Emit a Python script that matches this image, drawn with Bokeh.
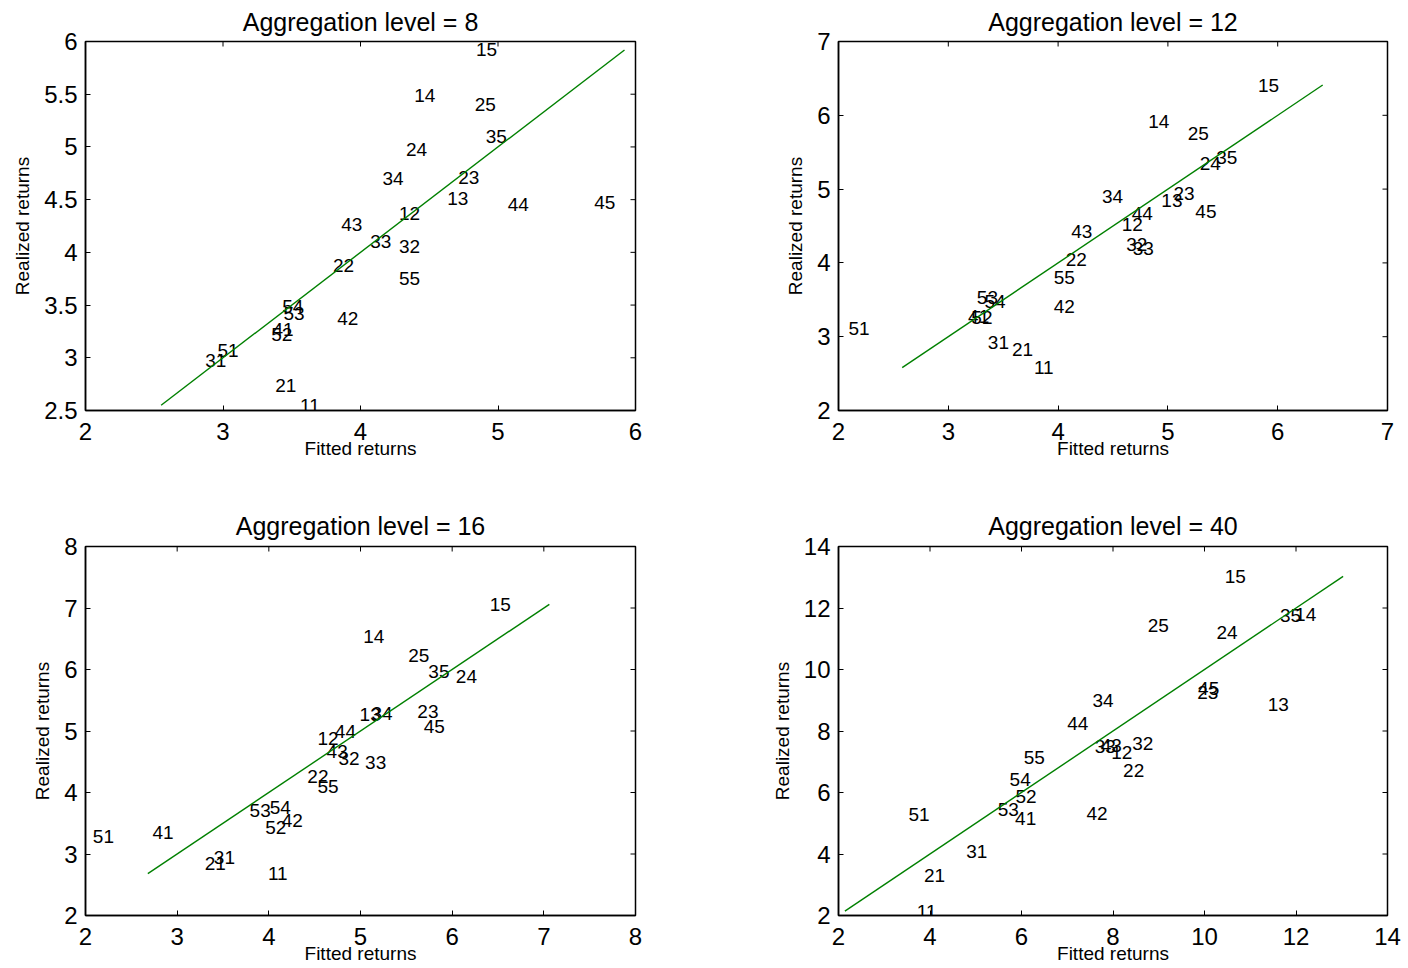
import math
from bokeh.plotting import figure
from bokeh.models import Range1d, FixedTicker, ColumnDataSource, CustomJSTickFormatter
from bokeh.layouts import column, row
from bokeh.embed import file_html
from bokeh.resources import INLINE
from bokeh.core.properties import value

FONT = "Liberation Sans"

codes = ["11", "12", "13", "14", "15", "21", "22", "23", "24", "25",
         "31", "32", "33", "34", "35", "41", "42", "43", "44", "45",
         "51", "52", "53", "54", "55"]

# Aggregation level = 8
fitted_8 = [3.56, 4.28, 4.63, 4.39, 4.84, 3.38, 3.80, 4.71, 4.33, 4.83,
            2.87, 4.28, 4.07, 4.16, 4.91, 3.36, 3.83, 3.86, 5.07, 5.70,
            2.96, 3.35, 3.44, 3.43, 4.28]
realized_8 = [2.55, 4.37, 4.51, 5.49, 5.92, 2.74, 3.88, 4.71, 4.98, 5.40,
              2.97, 4.06, 4.10, 4.70, 5.10, 3.27, 3.37, 4.26, 4.45, 4.47,
              3.07, 3.22, 3.42, 3.49, 3.75]
xticks_8 = [2, 3, 4, 5, 6]
yticks_8 = [2.5, 3, 3.5, 4, 4.5, 5, 5.5, 6]

# Aggregation level = 12
fitted_12 = [3.78, 4.58, 4.94, 4.82, 5.82, 3.58, 4.07, 5.05, 5.29, 5.18,
             3.36, 4.62, 4.68, 4.40, 5.44, 3.18, 3.96, 4.12, 4.67, 5.25,
             2.09, 3.21, 3.26, 3.33, 3.96]
realized_12 = [2.58, 4.52, 4.84, 5.92, 6.41, 2.82, 4.04, 4.94, 5.35, 5.76,
               2.92, 4.25, 4.20, 4.90, 5.43, 3.28, 3.41, 4.42, 4.67, 4.69,
               3.11, 3.26, 3.53, 3.48, 3.80]
xticks_12 = [2, 3, 4, 5, 6, 7]
yticks_12 = [2, 3, 4, 5, 6, 7]

# Aggregation level = 16
fitted_16 = [3.99, 4.53, 4.99, 5.03, 6.41, 3.30, 4.42, 5.62, 6.04, 5.52,
             3.40, 4.76, 5.05, 5.12, 5.74, 2.73, 4.14, 4.63, 4.72, 5.69,
             2.08, 3.96, 3.79, 4.01, 4.53]
realized_16 = [2.68, 4.88, 5.27, 6.53, 7.06, 2.85, 4.26, 5.32, 5.89, 6.23,
               2.95, 4.55, 4.48, 5.28, 5.96, 3.35, 3.55, 4.66, 5.00, 5.07,
               3.29, 3.43, 3.70, 3.75, 4.09]
xticks_16 = [2, 3, 4, 5, 6, 7, 8]
yticks_16 = [2, 3, 4, 5, 6, 7, 8]

# Aggregation level = 40
fitted_40 = [3.71, 7.96, 11.38, 11.98, 10.44, 3.87, 8.22, 9.84, 10.26, 8.76,
             4.79, 8.42, 7.60, 7.55, 11.65, 5.86, 7.42, 7.73, 7.00, 9.86,
             3.53, 5.87, 5.48, 5.74, 6.05]
realized_40 = [2.14, 7.30, 8.86, 11.79, 13.03, 3.29, 6.70, 9.25, 11.19, 11.43,
               4.07, 7.59, 7.48, 9.00, 11.76, 5.17, 5.33, 7.53, 8.24, 9.38,
               5.29, 5.88, 5.45, 6.43, 7.15]
xticks_40 = [2, 4, 6, 8, 10, 12, 14]
yticks_40 = [2, 4, 6, 8, 10, 12, 14]

titles = ["Aggregation level = 8", "Aggregation level = 12",
          "Aggregation level = 16", "Aggregation level = 40"]


def make_panel(title, fitted, realized, xticks, yticks, width, height,
               bl, br, bt, bb, title_standoff):
    xlo, xhi = xticks[0], xticks[-1]
    ylo, yhi = yticks[0], yticks[-1]
    p = figure(width=width, height=height, output_backend="svg",
               toolbar_location=None,
               x_range=Range1d(xlo, xhi), y_range=Range1d(ylo, yhi),
               min_border_left=bl, min_border_right=br,
               min_border_top=bt, min_border_bottom=bb)
    p.background_fill_color = "white"
    p.border_fill_color = "white"
    p.outline_line_color = "black"
    p.outline_line_width = 1.5
    p.grid.visible = False

    p.title.text = title
    p.title.align = "center"
    p.title.text_font = FONT
    p.title.text_font_size = "25px"
    p.title.text_font_style = "normal"
    p.title.text_color = "black"
    p.title.standoff = title_standoff

    fmt = CustomJSTickFormatter(code="return tick.toString();")
    for ax, ticks, lab in ((p.xaxis[0], xticks, "Fitted returns"),
                           (p.yaxis[0], yticks, "Realized returns")):
        ax.ticker = FixedTicker(ticks=ticks)
        ax.formatter = fmt
        ax.axis_label = lab
        ax.axis_label_text_font = FONT
        ax.axis_label_text_font_size = "19px"
        ax.axis_label_text_font_style = "normal"
        ax.axis_label_text_color = "black"
        ax.major_label_text_font = FONT
        ax.major_label_text_font_size = "24px"
        ax.major_label_text_color = "black"
        ax.major_tick_in = 5
        ax.major_tick_out = 0
        ax.minor_tick_line_color = None
        ax.axis_line_color = "black"
        ax.axis_line_width = 1.5
        ax.major_tick_line_color = "black"
    p.xaxis[0].major_label_standoff = 12
    p.xaxis[0].axis_label_standoff = -5
    p.yaxis[0].major_label_standoff = 8
    p.yaxis[0].axis_label_standoff = 8

    # inner ticks on the top and right sides of the box
    p.ray(x=xticks, y=[yhi] * len(xticks), length=5, length_units="screen",
          angle=-math.pi / 2, line_color="black", line_width=1)
    p.ray(x=[xhi] * len(yticks), y=yticks, length=5, length_units="screen",
          angle=math.pi, line_color="black", line_width=1)

    src = ColumnDataSource(dict(x=fitted, y=realized, t=codes))
    p.text(x="x", y="y", text="t", source=src, text_align="left",
           text_baseline="middle", text_font=value(FONT),
           text_font_size="19px", text_color="black")

    lo, hi = min(realized), max(realized)
    p.line([lo, hi], [lo, hi], line_color="#008000", line_width=1.4)
    return p


p1 = make_panel(titles[0], fitted_8, realized_8, xticks_8, yticks_8,
                700, 470, 85, 65, 41, 60, 11)
p2 = make_panel(titles[1], fitted_12, realized_12, xticks_12, yticks_12,
                708, 470, 138, 21, 41, 60, 11)
p3 = make_panel(titles[2], fitted_16, realized_16, xticks_16, yticks_16,
                700, 498, 85, 65, 76, 53, 14)
p4 = make_panel(titles[3], fitted_40, realized_40, xticks_40, yticks_40,
                708, 498, 138, 21, 76, 53, 14)

layout = column(row(p1, p2, spacing=0), row(p3, p4, spacing=0), spacing=0)
open("out.html", "w").write(file_html(layout, INLINE))
